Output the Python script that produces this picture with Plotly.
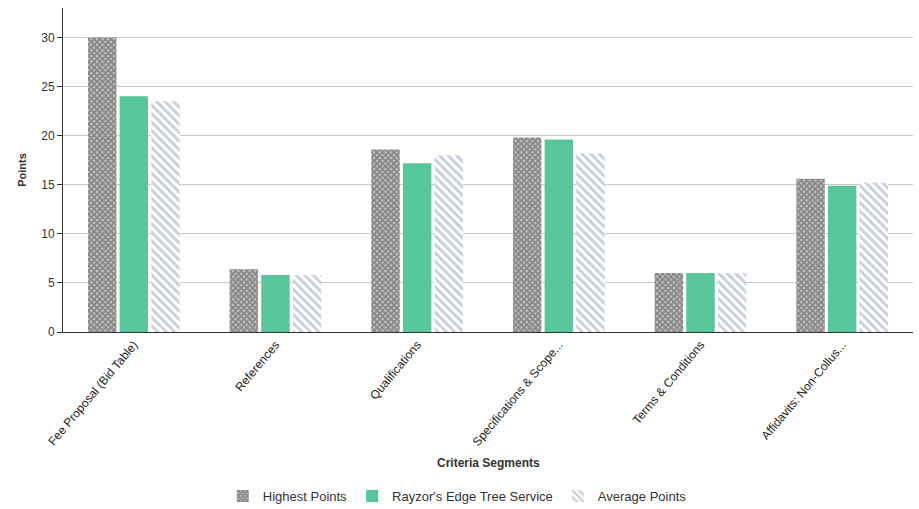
import plotly.graph_objects as go

categories = ["Fee Proposal (Bid Table)", "References", "Qualifications",
              "Specifications & Scope...", "Terms & Conditions", "Affidavits: Non-Collus..."]
highest = [30, 6.4, 18.6, 19.8, 6.0, 15.6]
rayzor = [24, 5.8, 17.2, 19.6, 6.0, 14.9]
average = [23.5, 5.8, 18.0, 18.2, 6.0, 15.2]
y_ticks = [0, 5, 10, 15, 20, 25, 30]

fig = go.Figure()
fig.add_trace(go.Bar(
    name="Highest Points", x=categories, y=highest,
    marker=dict(color="#bdbdbd", line=dict(width=0),
                pattern=dict(shape="x", fgcolor="#474747", bgcolor="#c4c4c4",
                             size=4, solidity=0.7, fillmode="overlay")),
))
fig.add_trace(go.Bar(
    name="Rayzor's Edge Tree Service", x=categories, y=rayzor,
    marker=dict(color="#57c69a", line=dict(width=0)),
))
fig.add_trace(go.Bar(
    name="Average Points", x=categories, y=average,
    marker=dict(color="#ffffff", line=dict(width=0),
                pattern=dict(shape="\\", fgcolor="#95a2b8", bgcolor="#ffffff",
                             size=6, solidity=0.5, fillmode="overlay")),
))

fig.update_layout(
    width=919, height=509,
    margin=dict(l=63, r=6, t=8, b=177, autoexpand=False),
    paper_bgcolor="white", plot_bgcolor="white",
    barmode="group", bargap=0.33, bargroupgap=0.1,
    font=dict(family="Liberation Sans, Arial, sans-serif", size=11, color="#333333"),
    showlegend=True,
    legend=dict(orientation="h", x=0.188, xanchor="left", y=-0.506, yanchor="middle",
                font=dict(size=13, color="#333333"), itemwidth=30, traceorder="normal"),
    annotations=[dict(text="<b>Criteria Segments</b>", xref="paper", yref="paper",
                      x=0.5, y=-0.404, showarrow=False, xanchor="center", yanchor="middle",
                      font=dict(size=12, color="#333333"))],
)
fig.update_xaxes(
    showline=True, linecolor="#333333", linewidth=1, tickangle=-50,
    tickfont=dict(size=12, color="#222222"), ticks="", showgrid=False,
)
fig.update_yaxes(
    range=[0, 33], tickvals=y_ticks, showgrid=True, gridcolor="#c8c8c8", gridwidth=1,
    showline=True, linecolor="#333333", linewidth=1, ticks="outside", ticklen=5,
    tickcolor="#333333", tickfont=dict(size=12, color="#333333"), zeroline=False,
    title=dict(text="<b>Points</b>", font=dict(size=11, color="#333333"), standoff=12),
)
fig.write_html("out.html")
